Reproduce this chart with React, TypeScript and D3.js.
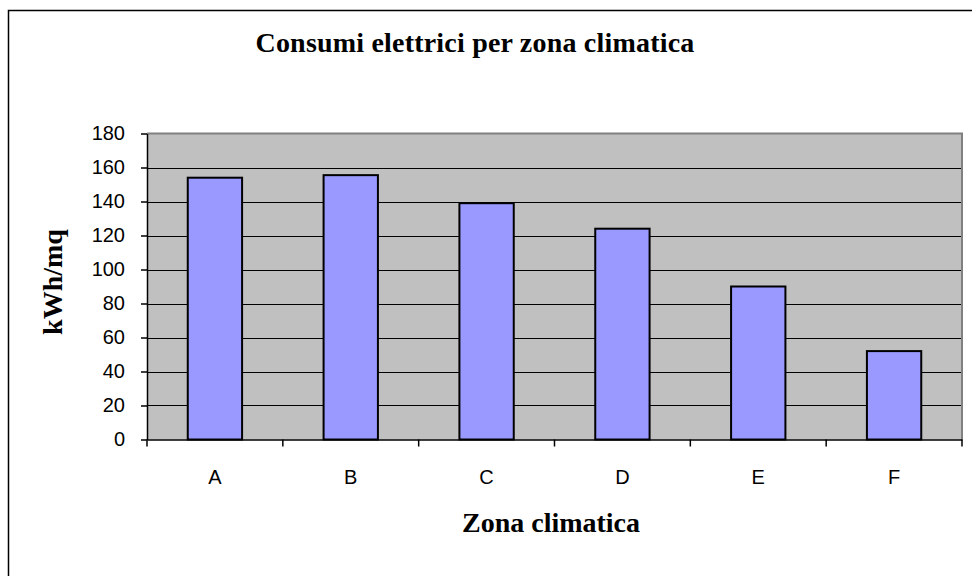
import React, { useEffect, useRef } from 'react';
import * as d3 from 'd3';

// chart data
const zones = ['A', 'B', 'C', 'D', 'E', 'F'];
const consumi = [154, 155.5, 139, 124, 90, 52];
const yTicks = [0, 20, 40, 60, 80, 100, 120, 140, 160, 180];

const W = 972;
const H = 576;
const margin = { left: 147, right: 10, top: 133.5, bottom: 136.5 };

const App: React.FC = () => {
  const svgRef = useRef<SVGSVGElement>(null);

  useEffect(() => {
    if (!svgRef.current) return;
    const svg = d3.select(svgRef.current);
    svg.selectAll('*').remove();

    const x0 = margin.left;
    const x1 = W - margin.right;
    const y1 = margin.top;
    const y0 = H - margin.bottom;

    // outer chart border (cut at the right and bottom edges)
    svg.append('rect')
      .attr('x', 8.5).attr('y', 10.5)
      .attr('width', W + 20).attr('height', H + 20)
      .attr('fill', '#fff').attr('stroke', '#000').attr('stroke-width', 1.5);

    const x = d3.scaleBand().domain(zones).range([x0, x1]).paddingInner(0).paddingOuter(0);
    const y = d3.scaleLinear().domain([0, 180]).range([y0, y1]);

    // plot area
    svg.append('rect')
      .attr('x', x0).attr('y', y1)
      .attr('width', x1 - x0).attr('height', y0 - y1)
      .attr('fill', '#c0c0c0');

    // gridlines
    svg.append('g')
      .selectAll('line')
      .data(yTicks.filter(t => t > 0 && t < 180))
      .enter()
      .append('line')
      .attr('x1', x0).attr('x2', x1)
      .attr('y1', d => Math.round(y(d)) + 0.5).attr('y2', d => Math.round(y(d)) + 0.5)
      .attr('stroke', '#000').attr('stroke-width', 1);

    // plot border top/right
    svg.append('path')
      .attr('d', `M${x0},${y1} H${x1} V${y0}`)
      .attr('fill', 'none').attr('stroke', '#808080').attr('stroke-width', 2);

    // bars
    const bw = x.bandwidth() / 2.5;
    svg.append('g')
      .selectAll('rect')
      .data(zones)
      .enter()
      .append('rect')
      .attr('x', d => (x(d) || 0) + x.bandwidth() / 2 - bw / 2)
      .attr('y', (d, i) => y(consumi[i]))
      .attr('width', bw)
      .attr('height', (d, i) => y0 - y(consumi[i]))
      .attr('fill', '#9999ff')
      .attr('stroke', '#000')
      .attr('stroke-width', 2);

    // y axis
    const yAxis = svg.append('g')
      .attr('transform', `translate(${x0},0)`)
      .call(d3.axisLeft(y).tickValues(yTicks).tickSize(6).tickPadding(16).tickSizeOuter(0));
    yAxis.select('.domain').attr('stroke', '#000').attr('stroke-width', 1.5);
    yAxis.selectAll('.tick line').attr('stroke', '#000').attr('stroke-width', 1.5);
    yAxis.selectAll('.tick text')
      .attr('fill', '#000')
      .style('font-family', '"Liberation Sans", Arial, sans-serif')
      .style('font-size', '20px');

    // x axis
    const xAxis = svg.append('g')
      .attr('transform', `translate(0,${y0})`)
      .call(d3.axisBottom(x).tickSize(0).tickPadding(30).tickSizeOuter(0));
    xAxis.select('.domain').attr('stroke', '#000').attr('stroke-width', 1.5);
    xAxis.selectAll('.tick text')
      .attr('fill', '#000')
      .style('font-family', '"Liberation Sans", Arial, sans-serif')
      .style('font-size', '20px');

    // category boundary ticks
    const bounds = zones.map(z => x(z) || 0).concat([x1]);
    svg.append('g')
      .selectAll('line')
      .data(bounds)
      .enter()
      .append('line')
      .attr('x1', d => d).attr('x2', d => d)
      .attr('y1', y0).attr('y2', y0 + 7)
      .attr('stroke', '#000').attr('stroke-width', 1.5);

    const serif = '"Liberation Serif", "Times New Roman", serif';

    svg.append('text')
      .attr('x', 475).attr('y', 52)
      .attr('text-anchor', 'middle')
      .style('font-family', serif).style('font-weight', 'bold').style('font-size', '28px')
      .style('letter-spacing', '0.2px')
      .text('Consumi elettrici per zona climatica');

    svg.append('text')
      .attr('x', 551).attr('y', 532)
      .attr('text-anchor', 'middle')
      .style('font-family', serif).style('font-weight', 'bold').style('font-size', '28px')
      .text('Zona climatica');

    svg.append('text')
      .attr('transform', 'translate(62,282) rotate(-90)')
      .attr('text-anchor', 'middle')
      .style('font-family', serif).style('font-weight', 'bold').style('font-size', '28px')
      .text('kWh/mq');
  }, []);

  return (
    <svg
      ref={svgRef}
      width={W}
      height={H}
      style={{ position: 'fixed', left: 0, top: 0, background: '#fff' }}
    />
  );
};

export default App;
